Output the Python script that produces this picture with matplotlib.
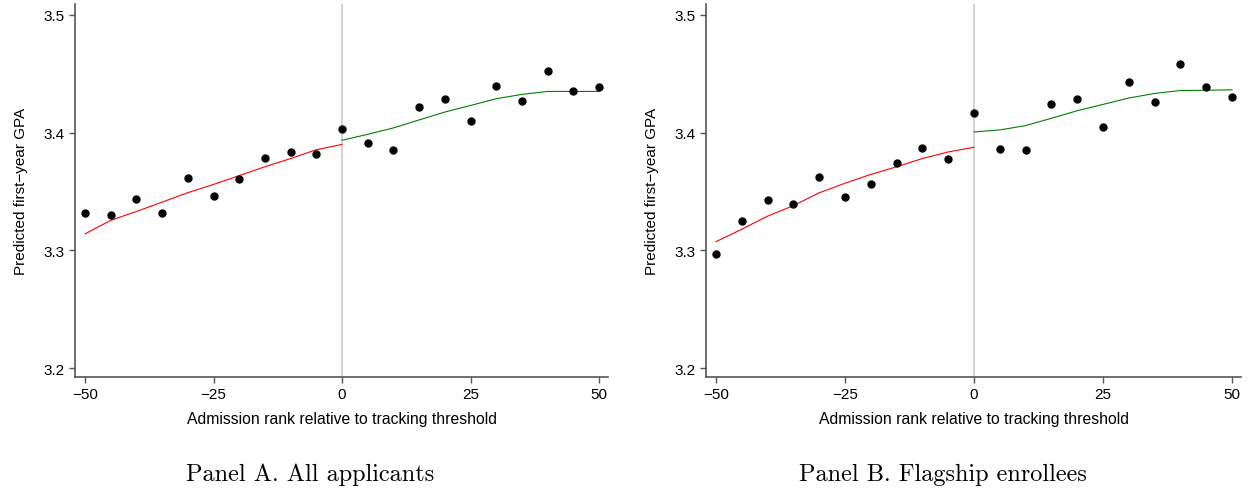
import numpy as np
import matplotlib
matplotlib.use("Agg")
import matplotlib.pyplot as plt

plt.rcParams['font.family'] = ['Liberation Sans', 'DejaVu Sans']

# binned means, 5-rank bins around the threshold
rank_bins = [-50, -45, -40, -35, -30, -25, -20, -15, -10, -5, 0,
             5, 10, 15, 20, 25, 30, 35, 40, 45, 50]

gpa_all = [3.332, 3.330, 3.3435, 3.332, 3.3616, 3.3458, 3.3602, 3.3788, 3.3839, 3.3819, 3.4034,
           3.3912, 3.3853, 3.4214, 3.4288, 3.4099, 3.4392, 3.4265, 3.4523, 3.4353, 3.4384]
gpa_flagship = [3.2966, 3.3249, 3.3424, 3.3393, 3.3619, 3.3455, 3.3565, 3.3743, 3.3867, 3.3780, 3.4167,
                3.3859, 3.3853, 3.4243, 3.4286, 3.4051, 3.4432, 3.4263, 3.4582, 3.4390, 3.4299]

# local polynomial fits, left and right of the threshold
fit_left_x = [-50, -45, -40, -35, -30, -25, -20, -15, -10, -5, 0]
fit_right_x = [0, 5, 10, 15, 20, 25, 30, 35, 40, 45, 50]

fit_all_left = [3.314, 3.3255, 3.333, 3.341, 3.349, 3.356, 3.3635, 3.371, 3.378, 3.3855, 3.390]
fit_all_right = [3.3935, 3.3986, 3.404, 3.4108, 3.4175, 3.4231, 3.4288, 3.4325, 3.435, 3.435, 3.435]
fit_flag_left = [3.3074, 3.318, 3.3291, 3.338, 3.3489, 3.357, 3.3645, 3.371, 3.378, 3.3836, 3.3876]
fit_flag_right = [3.4006, 3.4023, 3.406, 3.4122, 3.4186, 3.424, 3.4294, 3.4333, 3.4358, 3.436, 3.4364]

panel_titles = ["Panel A. All applicants", "Panel B. Flagship enrollees"]

fig = plt.figure(figsize=(12.48, 4.89), dpi=100)
ax_a = fig.add_axes([0.0601, 0.227, 0.4271, 0.7628])
ax_b = fig.add_axes([0.5657, 0.227, 0.4287, 0.7628])

spine_col = "#555555"

def draw_panel(ax, gpa, left_fit, right_fit, title):
    ax.axvline(0, color="#c8c8c8", lw=1.1, zorder=1)
    ax.plot(fit_left_x, left_fit, color="#ff0000", lw=0.8, zorder=2)
    ax.plot(fit_right_x, right_fit, color="#008000", lw=0.8, zorder=2)
    ax.plot(rank_bins, gpa, 'o', color="black", markersize=5, zorder=3)

    ax.set_xlim(-51.95, 51.75)
    ax.set_ylim(3.1924, 3.5093)
    ax.set_xticks([-50, -25, 0, 25, 50])
    ax.set_xticklabels(["\u221250", "\u221225", "0", "25", "50"])
    ax.set_yticks([3.2, 3.3, 3.4, 3.5])
    ax.set_yticklabels(["3.2", "3.3", "3.4", "3.5"])
    ax.tick_params(direction='out', length=4.5, width=1.0, color=spine_col,
                   labelsize=11, pad=3)
    for side in ["top", "right"]:
        ax.spines[side].set_visible(False)
    for side in ["left", "bottom"]:
        ax.spines[side].set_color(spine_col)
        ax.spines[side].set_linewidth(1.2)

    ax.set_ylabel("Predicted first\u2212year GPA", fontsize=11, labelpad=11)
    ax.set_xlabel("Admission rank relative to tracking threshold", fontsize=11.3, labelpad=7)
    # panel caption below the axis title
    ax.text(0.442, -0.26, title, transform=ax.transAxes, ha="center", va="center",
            fontsize=17.5, family="cmr10")

draw_panel(ax_a, gpa_all, fit_all_left, fit_all_right, panel_titles[0])
draw_panel(ax_b, gpa_flagship, fit_flag_left, fit_flag_right, panel_titles[1])

fig.savefig("out.png", dpi=100)
